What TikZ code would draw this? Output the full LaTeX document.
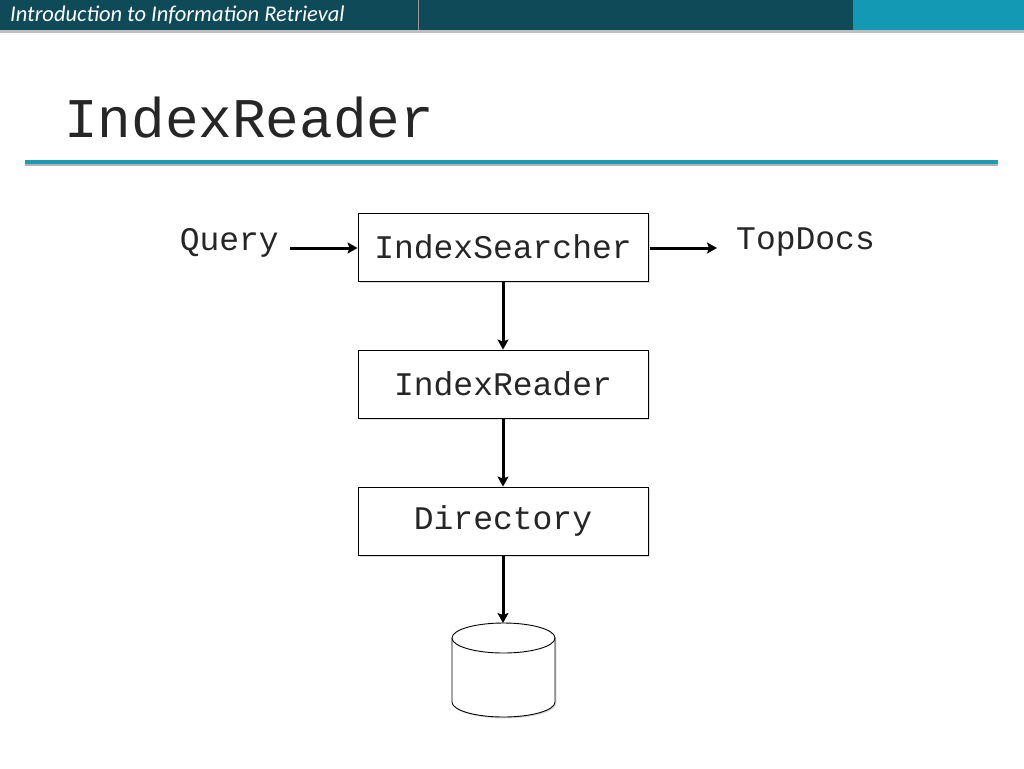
\documentclass[tikz,border=0pt]{standalone}
\usepackage{fontspec}
\setmainfont{Liberation Serif}
\newfontfamily\monof{Liberation Mono}
\newfontfamily\hdrf{Carlito}
\usetikzlibrary{arrows.meta,shapes.geometric,shadows}
\definecolor{hdrdark}{HTML}{0E4A58}
\definecolor{hdrlight}{HTML}{1499B4}
\definecolor{rulec}{HTML}{1C9CB2}
\definecolor{txt}{HTML}{262626}
\tikzset{
  flowbox/.style={draw=black, line width=0.9pt, fill=white, minimum width=290pt, minimum height=68pt, inner sep=0pt,
    text=txt, font=\monof\fontsize{33}{36}\selectfont, drop shadow={shadow xshift=1.5pt, shadow yshift=-1.5pt, opacity=0.25}},
  lbl/.style={font=\monof\fontsize{33}{36}\selectfont, text=txt, inner sep=0pt, anchor=base west},
  flowarrow/.style={line width=3pt, -{Stealth[length=10pt,width=11pt,inset=2pt]}}
}
\begin{document}
\begin{tikzpicture}[x=1pt,y=-1pt]
\useasboundingbox (0,0) rectangle (1024,768);
\fill[white] (0,0) rectangle (1024,768);
% header
\fill[hdrdark] (0,0) rectangle (853,30);
\fill[hdrlight] (853,0) rectangle (1024,30);
\draw[black!40, line width=0.5pt] (418,0) -- (418,33);
\fill[black!25] (0,30) rectangle (1024,33);
\node[anchor=base west, inner sep=0pt, text=white, font=\hdrf\itshape\fontsize{22.5}{24}\selectfont] (hdr) at (10,22) {Introduction to Information Retrieval};
% title
\node[anchor=base west, inner sep=0pt, font=\monof\fontsize{56}{60}\selectfont, text=txt] (title) at (64,137) {IndexReader};
\fill[black!30] (25,163) rectangle (998,166);
\fill[rulec] (25,160) rectangle (998,164);
% boxes
\node[flowbox] (searcher) at (503,247) {IndexSearcher};
\node[flowbox] (reader) at (503,384) {IndexReader};
\node[flowbox] (dir) at (503,521) {Directory};
\node[lbl, anchor=base east] (query) at (279,250) {Query};
\node[lbl] (topdocs) at (736,249) {TopDocs};
% cylinder
\coordinate (cyltop) at (503,623);
\draw[line width=0.9pt, fill=white, drop shadow={shadow xshift=1.5pt, shadow yshift=-1.5pt, opacity=0.25}]
  (452,638) -- (452,702) arc[start angle=180, end angle=360, x radius=51.5pt, y radius=15pt] -- (555,638)
  arc[start angle=0, end angle=180, x radius=51.5pt, y radius=15pt] -- cycle;
\draw[line width=0.9pt] (452,638) arc[start angle=180, end angle=360, x radius=51.5pt, y radius=15pt];
% arrows
\coordinate (qa) at (290,248);
\coordinate (ta) at (717,248);
\draw[flowarrow] (qa) -- (searcher.west |- qa);
\draw[flowarrow] (searcher.east |- ta) ++(2,0) -- (ta);
\draw[flowarrow] (searcher.south) -- (reader.north);
\draw[flowarrow] (reader.south) -- (dir.north);
\draw[flowarrow] (dir.south) -- (cyltop);
\end{tikzpicture}
\end{document}
